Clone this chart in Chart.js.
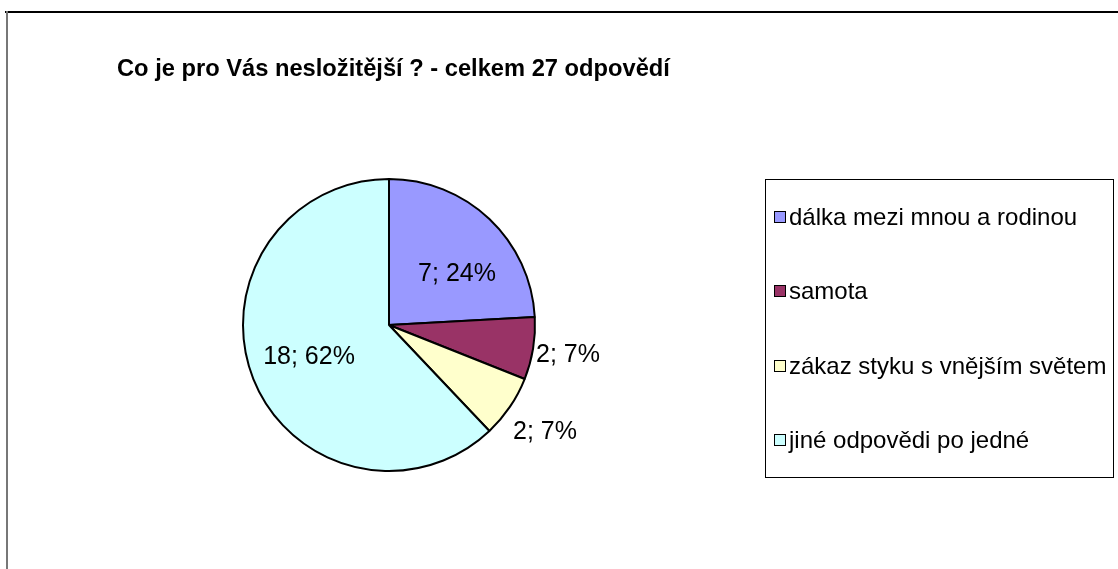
<!DOCTYPE html>
<html>
<head>
<meta charset="utf-8">
<script src="https://cdn.jsdelivr.net/npm/chart.js@4/dist/chart.umd.min.js"></script>
<style>
    html, body { margin: 0; padding: 0; background: #fff; }
    #wrap { position: relative; width: 1118px; height: 569px; }
</style>
</head>
<body>
<div id="wrap"><canvas id="pieChart" width="1118" height="569"></canvas></div>
<script>
const titleText = 'Co je pro Vás nesložitější ? - celkem 27 odpovědí';
const categories = ['dálka mezi mnou a rodinou', 'samota', 'zákaz styku s vnějším světem', 'jiné odpovědi po jedné'];
const counts = [7, 2, 2, 18];
const colors = ['#9999FF', '#993366', '#FFFFCC', '#CCFFFF'];

const FONT = '"Liberation Sans", Arial, sans-serif';

// where each value label sits, relative to the pie centre (px)
const labelOffsets = [[68, -51], [179, 30], [156, 107], [-80, 32]];

const decor = {
    id: 'decor',
    afterDraw(chart) {
        const ctx = chart.ctx;
        ctx.save();
        // outer frame
        ctx.strokeStyle = '#000';
        ctx.lineWidth = 2;
        ctx.beginPath(); ctx.moveTo(5, 12); ctx.lineTo(1118, 12); ctx.stroke();
        ctx.strokeStyle = '#777';
        ctx.lineWidth = 2;
        ctx.beginPath(); ctx.moveTo(7, 11); ctx.lineTo(7, 569); ctx.stroke();

        // title
        ctx.fillStyle = '#000';
        ctx.font = 'bold 23.7px ' + FONT;
        ctx.textBaseline = 'alphabetic';
        ctx.fillText(titleText, 117, 76);

        // value labels
        const arc = chart.getDatasetMeta(0).data[0];
        const total = counts.reduce((a, b) => a + b, 0);
        ctx.font = '25px ' + FONT;
        ctx.textAlign = 'center';
        ctx.textBaseline = 'middle';
        counts.forEach((v, i) => {
            const pct = Math.round(v / total * 100);
            ctx.fillText(v + '; ' + pct + '%', arc.x + labelOffsets[i][0], arc.y + labelOffsets[i][1]);
        });

        // legend box
        ctx.strokeStyle = '#000';
        ctx.lineWidth = 1;
        ctx.strokeRect(765.5, 179.5, 348, 298);
        ctx.font = '24px ' + FONT;
        ctx.textAlign = 'left';
        categories.forEach((c, i) => {
            const y = Math.round(217 + i * 74.3);
            ctx.fillStyle = colors[i];
            ctx.fillRect(774, y - 5, 11, 11);
            ctx.strokeRect(774.5, y - 5.5, 11, 11);
            ctx.fillStyle = '#000';
            ctx.fillText(c, 789, y + 1);
        });
        ctx.restore();
    }
};

new Chart(document.getElementById('pieChart'), {
    type: 'pie',
    data: {
        labels: categories,
        datasets: [{
            data: counts,
            backgroundColor: colors,
            borderColor: '#000',
            borderWidth: 2,
            hoverOffset: 0,
            offset: 0
        }]
    },
    options: {
        responsive: false,
        animation: false,
        layout: { padding: { left: 242, right: 582, top: 178, bottom: 97 } },
        plugins: { legend: { display: false }, tooltip: { enabled: false } }
    },
    plugins: [decor]
});
</script>
</body>
</html>
